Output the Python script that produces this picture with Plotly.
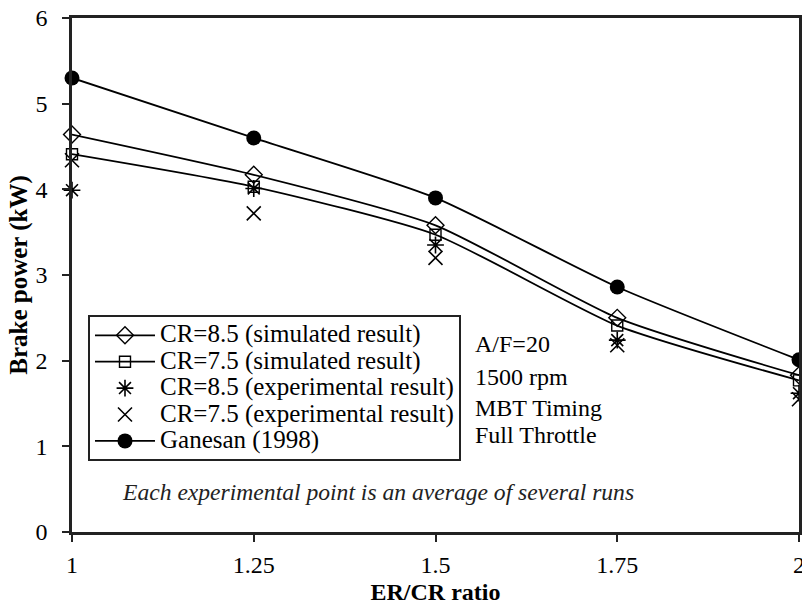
import plotly.graph_objects as go

x = [1, 1.25, 1.5, 1.75, 2]
cr85_sim = [4.64, 4.17, 3.58, 2.50, 1.83]
cr75_sim = [4.41, 4.03, 3.47, 2.41, 1.77]
cr85_exp = [3.99, 4.01, 3.35, 2.24, 1.62]
cr75_exp = [4.34, 3.72, 3.20, 2.18, 1.55]
ganesan = [5.30, 4.60, 3.90, 2.86, 2.01]

names = ["CR=8.5 (simulated result)", "CR=7.5 (simulated result)",
         "CR=8.5 (experimental result)", "CR=7.5 (experimental result)",
         "Ganesan (1998)"]
notes = ["A/F=20", "1500 rpm", "MBT Timing", "Full Throttle"]
note_y = [2.20, 1.81, 1.45, 1.13]
footnote = "Each experimental point is an average of several runs"
x_ticks = [1, 1.25, 1.5, 1.75, 2]
x_ticklabels = ["1", "1.25", "1.5", "1.75", "2"]
y_ticks = [0, 1, 2, 3, 4, 5, 6]

FONT = "Liberation Serif, Times New Roman, serif"


def big(s):
    return '<span style="font-size:25px">' + s + '</span>'


fig = go.Figure()
line_style = dict(color="black", width=1.8, shape="spline", smoothing=0.6)

fig.add_trace(go.Scatter(x=x, y=cr85_sim, name=big(names[0]), mode="lines+markers",
                         line=line_style, cliponaxis=False,
                         marker=dict(symbol="diamond-open", size=13, color="black", line=dict(width=1.4))))
fig.add_trace(go.Scatter(x=x, y=cr75_sim, name=big(names[1]), mode="lines+markers",
                         line=line_style, cliponaxis=False,
                         marker=dict(symbol="square-open", size=11, color="black", line=dict(width=1.4))))
fig.add_trace(go.Scatter(x=x, y=cr85_exp, name=big(names[2]), mode="markers", cliponaxis=False,
                         marker=dict(symbol="asterisk-open", size=14, color="black", line=dict(width=1.6, color="black"))))
fig.add_trace(go.Scatter(x=x, y=cr75_exp, name=big(names[3]), mode="markers", cliponaxis=False,
                         marker=dict(symbol="x-thin-open", size=14, color="black", line=dict(width=1.6, color="black"))))
fig.add_trace(go.Scatter(x=x, y=ganesan, name=big(names[4]), mode="lines+markers",
                         line=line_style, cliponaxis=False,
                         marker=dict(symbol="circle", size=15, color="black")))

for t, yy in zip(notes, note_y):
    fig.add_annotation(x=0.551, xref="paper", y=yy, yref="y", text=t,
                       showarrow=False, xanchor="left", yanchor="middle",
                       font=dict(family=FONT, size=24, color="black"))
fig.add_annotation(x=0.066, xref="paper", y=0.47, yref="y", text="<i>" + footnote + "</i>",
                   showarrow=False, xanchor="left", yanchor="middle",
                   font=dict(family=FONT, size=23.6, color="#222"))

fig.update_layout(
    width=802, height=605,
    margin=dict(l=72, r=3, t=18, b=73, autoexpand=False),
    paper_bgcolor="white", plot_bgcolor="white",
    font=dict(family=FONT, size=18, color="black"),
    showlegend=True,
    legend=dict(x=0.022, y=0.422, xanchor="left", yanchor="top",
                bordercolor="#222", borderwidth=2, bgcolor="white",
                font=dict(family=FONT, size=18, color="black"),
                tracegroupgap=0, itemwidth=60),
    xaxis=dict(range=[1, 2], tickvals=x_ticks, ticktext=x_ticklabels,
               ticks="outside", ticklen=7, tickwidth=2, tickcolor="#222",
               showline=True, linecolor="#222", linewidth=2.5, mirror=True,
               showgrid=False, zeroline=False, ticklabelstandoff=2, automargin=False,
               ticklabeloverflow="allow",
               title=dict(text="<b>ER/CR ratio</b>", font=dict(family=FONT, size=24), standoff=11),
               tickfont=dict(family=FONT, size=24)),
    yaxis=dict(range=[0, 6], tickvals=y_ticks,
               ticks="outside", ticklen=7, tickwidth=2, tickcolor="#222",
               showline=True, linecolor="#222", linewidth=2.5, mirror=True,
               showgrid=False, zeroline=False, ticklabelstandoff=10, automargin=False,
               title=dict(text="<b>Brake power (kW)</b>", font=dict(family=FONT, size=25), standoff=1),
               tickfont=dict(family=FONT, size=24)),
)

fig.write_html("out.html")
